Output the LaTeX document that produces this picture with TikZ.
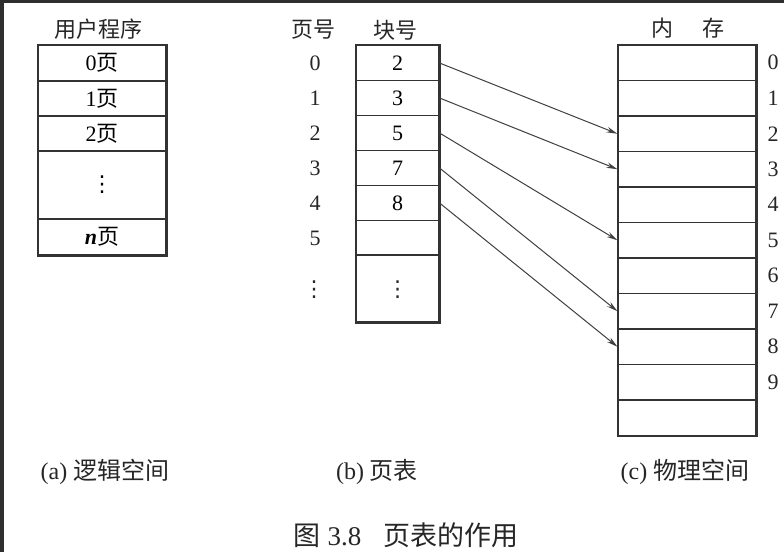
\documentclass[tikz,border=0pt]{standalone}
\usepackage{fontspec}
\setmainfont{Liberation Serif}
\newfontfamily\cjk{Noto Sans CJK SC}
\newfontfamily\sym{DejaVu Sans}
\newcommand\zh[1]{{\cjk #1}}
\newcommand\vdot{{\sym ⋮}}
\usetikzlibrary{arrows.meta}

\tikzset{
  cell/.style={draw=black!80, line width=1.1pt, inner sep=0pt, minimum width=#1},
  outer/.style={draw=black!80, line width=1.9pt},
  link/.style={draw=black!75, line width=1pt, -{Stealth[length=11pt,width=5.5pt]}},
  label/.style={text=black!85}
}

\begin{document}
\begin{tikzpicture}[x=1pt, y=-1pt, font=\fontsize{22}{24}\selectfont]
\useasboundingbox (0,0) rectangle (784,552);
\fill[white] (0,0) rectangle (784,552);
\fill[black!82] (0,0) rectangle (4,552);
\fill[black!82] (0,0) rectangle (784,3);

% (a) user program
\node[label] (ta) at (98,29) {\zh{用户程序}};
\node[cell=128, minimum height=36pt] (p0) at (102,63) {0\zh{页}};
\node[cell=128, minimum height=35pt] (p1) at (102,98.5) {1\zh{页}};
\node[cell=128, minimum height=35pt] (p2) at (102,133.5) {2\zh{页}};
\node[cell=128, minimum height=68pt] (pd) at (102,185) {\vdot};
\node[cell=128, minimum height=36pt] (pn) at (102,237) {\textbf{\textit{n}}\zh{页}};
\draw[outer] (p0.north west) rectangle (pn.south east);

% (b) page table
\node[label] (tn) at (313,30) {\zh{页号}};
\node[label] (tb) at (395,30) {\zh{块号}};
\foreach \v [count=\i from 0] in {2,3,5,7,8,{}} {
  \node[cell=83, minimum height=35pt] (b\i) at (397.5,63+35*\i) {\v};
  \node[label] (n\i) at (315,63+35*\i) {\i};
}
\node[cell=83, minimum height=67pt] (b6) at (397.5,288.5) {};
\node[label] (bd) at (397.5,290) {\vdot};
\node[label] (nd) at (314,290) {\vdot};
\draw[outer] (b0.north west) rectangle (b6.south east);

% (c) memory
\node[label] (tm) at (688,28) {\zh{内}\hspace{1.3em}\zh{存}};
\foreach \i in {0,...,10} {
  \node[cell=138, minimum height=35.5pt] (m\i) at (687,62.75+35.5*\i) {};
}
\foreach \i in {0,...,9} {
  \node[label] (f\i) at (773,62.75+35.5*\i) {\i};
}
\draw[outer] (m0.north west) rectangle (m10.south east);

% mapping
\foreach \s/\t in {0/2,1/3,2/5,3/7,4/8} {
  \draw[link] (b\s.east) -- (m\t.west);
}

% captions
\node[label, font=\fontsize{24}{26}\selectfont] (ca) at (105,472) {(a) \zh{逻辑空间}};
\node[label, font=\fontsize{24}{26}\selectfont] (cb) at (377,472) {(b) \zh{页表}};
\node[label, font=\fontsize{24}{26}\selectfont] (cc) at (685,472) {(c) \zh{物理空间}};
\node[label, font=\fontsize{27}{29}\selectfont] (cap) at (406,535) {\zh{图} 3.8\hspace{0.8em}\zh{页表的作用}};
\end{tikzpicture}
\end{document}
